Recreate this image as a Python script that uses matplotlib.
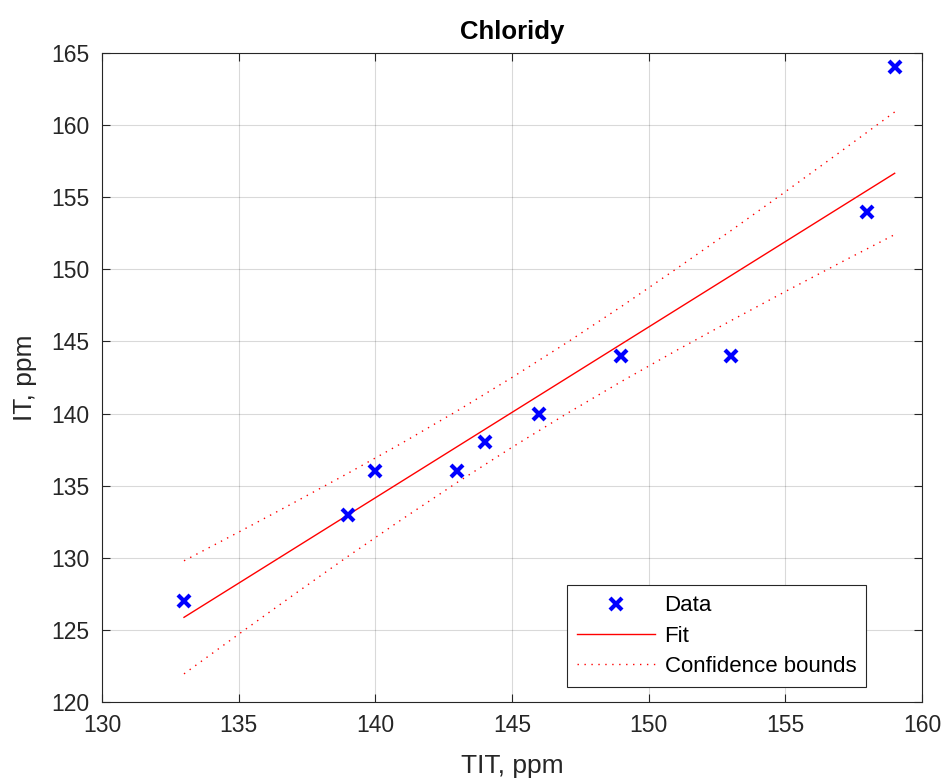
import matplotlib
matplotlib.use("Agg")
import matplotlib.pyplot as plt

plt.rcParams["font.family"] = ["Liberation Sans", "DejaVu Sans"]

# Measured values
tit_ppm = [133, 139, 140, 143, 144, 146, 149, 153, 158, 159]
it_ppm = [127, 133, 136, 136, 138, 140, 144, 144, 154, 164]

# Fitted line (end points)
fit_x = [133, 159]
fit_y = [125.87, 156.66]

# Confidence bounds of the fit
bound_x = [133, 135, 137, 139, 141, 143, 145, 147, 149, 151, 153, 155, 157, 159]
upper_y = [129.79, 131.78, 133.80, 135.86, 137.98, 140.19, 142.50,
           144.91, 147.42, 150.02, 152.67, 155.38, 158.13, 160.91]
lower_y = [121.95, 124.70, 127.42, 130.10, 132.70, 135.23, 137.66,
           139.99, 142.22, 144.36, 146.43, 148.46, 150.45, 152.41]

x_ticks = [130, 135, 140, 145, 150, 155, 160]
y_ticks = [120, 125, 130, 135, 140, 145, 150, 155, 160, 165]

fig = plt.figure(figsize=(9.44, 7.78), dpi=100)
ax = fig.add_axes([102 / 944, 1 - 702 / 778, 820 / 944, 649 / 778])

ax.plot(tit_ppm, it_ppm, linestyle="none", marker="x", color="#0000ff",
        markersize=9, markeredgewidth=3, label="Data", zorder=4)
ax.plot(fit_x, fit_y, color="#ff0000", linewidth=1.0, label="Fit", zorder=3)
ax.plot(bound_x, upper_y, color="#ff0000", linewidth=1.0,
        linestyle=(0, (1, 4)), label="Confidence bounds", zorder=3)
ax.plot(bound_x, lower_y, color="#ff0000", linewidth=1.0,
        linestyle=(0, (1, 4)), zorder=3)

ax.set_xlim(130, 160)
ax.set_ylim(120, 165)
ax.set_xticks(x_ticks)
ax.set_yticks(y_ticks)
ax.tick_params(axis="both", direction="in", length=6, width=0.8,
               top=True, right=True, labelsize=16.5, colors="#262626",
               pad=9)
for lbl in ax.get_xticklabels() + ax.get_yticklabels():
    lbl.set_color("#262626")
for spine in ax.spines.values():
    spine.set_color("#262626")
    spine.set_linewidth(0.8)
ax.grid(True, color="#000000", alpha=0.15, linewidth=0.8)
ax.set_axisbelow(True)

ax.set_title("Chloridy", fontsize=18.5, fontweight="bold", pad=10)
ax.set_xlabel("TIT, ppm", fontsize=19, color="#262626", labelpad=12)
ax.set_ylabel("IT, ppm", fontsize=19, color="#262626", labelpad=10)

leg = ax.legend(loc="lower right", bbox_to_anchor=(0.932, 0.023),
                borderaxespad=0, fontsize=16, fancybox=False, framealpha=1,
                edgecolor="#262626", borderpad=0.45, handlelength=3.5,
                handletextpad=0.45, labelspacing=0.42)
leg.get_frame().set_linewidth(0.8)

fig.savefig("out.png", dpi=100)
